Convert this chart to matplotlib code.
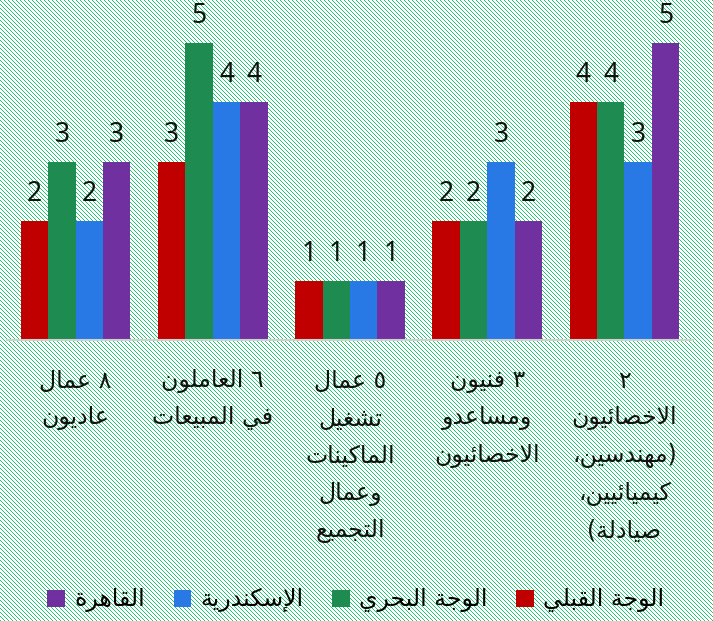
import matplotlib
matplotlib.use("Agg")
import matplotlib.pyplot as plt
from matplotlib.patches import Patch
import numpy as np

# categories, right to left on the axis
categories = [
    "٢\nالاخصائيون\n(مهندسين،\nكيميائيين،\nصيادلة)",
    "٣ فنيون\nومساعدو\nالاخصائيون",
    "٥ عمال\nتشغيل\nالماكينات\nوعمال\nالتجميع",
    "٦ العاملون\nفي المبيعات",
    "٨ عمال\nعاديون",
]
series_names = ["الوجة القبلي", "الوجة البحري", "الإسكندرية", "القاهرة"]
upper_egypt = [4, 2, 1, 3, 2]
lower_egypt = [4, 2, 1, 5, 3]
alexandria = [3, 3, 1, 4, 2]
cairo = [5, 2, 1, 4, 3]
series_colors = ["#c00000", "#1e8c50", "#2878e6", "#7030a0"]

# --- minimal Arabic shaping (presentation forms + reversed visual order) ---
FORMS = {
    'ء': (0xFE80, 1), 'آ': (0xFE81, 2), 'أ': (0xFE83, 2), 'ؤ': (0xFE85, 2),
    'إ': (0xFE87, 2), 'ئ': (0xFE89, 4), 'ا': (0xFE8D, 2), 'ب': (0xFE8F, 4),
    'ة': (0xFE93, 2), 'ت': (0xFE95, 4), 'ث': (0xFE99, 4), 'ج': (0xFE9D, 4),
    'ح': (0xFEA1, 4), 'خ': (0xFEA5, 4), 'د': (0xFEA9, 2), 'ذ': (0xFEAB, 2),
    'ر': (0xFEAD, 2), 'ز': (0xFEAF, 2), 'س': (0xFEB1, 4), 'ش': (0xFEB5, 4),
    'ص': (0xFEB9, 4), 'ض': (0xFEBD, 4), 'ط': (0xFEC1, 4), 'ظ': (0xFEC5, 4),
    'ع': (0xFEC9, 4), 'غ': (0xFECD, 4), 'ف': (0xFED1, 4), 'ق': (0xFED5, 4),
    'ك': (0xFED9, 4), 'ل': (0xFEDD, 4), 'م': (0xFEE1, 4), 'ن': (0xFEE5, 4),
    'ه': (0xFEE9, 4), 'و': (0xFEED, 2), 'ى': (0xFEEF, 2), 'ي': (0xFEF1, 4),
}
LAM_ALEF = {'آ': 0xFEF5, 'أ': 0xFEF7, 'إ': 0xFEF9, 'ا': 0xFEFB}
MIRROR = {'(': ')', ')': '('}


def shape_line(text):
    tokens = []
    i = 0
    while i < len(text):
        c = text[i]
        if c == 'ل' and i + 1 < len(text) and text[i + 1] in LAM_ALEF:
            tokens.append(('LA', text[i + 1]))
            i += 2
        else:
            tokens.append(('C', c))
            i += 1

    def nforms(t):
        if t[0] == 'LA':
            return 2
        return FORMS.get(t[1], (0, 0))[1]

    out = []
    for k, t in enumerate(tokens):
        n = nforms(t)
        prev = tokens[k - 1] if k > 0 else None
        nxt = tokens[k + 1] if k + 1 < len(tokens) else None
        jp = n >= 2 and prev is not None and nforms(prev) == 4
        jn = n == 4 and nxt is not None and nforms(nxt) >= 2
        if t[0] == 'LA':
            out.append(chr(LAM_ALEF[t[1]] + (1 if jp else 0)))
        elif n == 0:
            out.append(MIRROR.get(t[1], t[1]))
        else:
            base = FORMS[t[1]][0]
            if n == 1:
                off = 0
            elif jp and jn:
                off = 3
            elif jp:
                off = 1
            elif jn:
                off = 2
            else:
                off = 0
            out.append(chr(base + off))
    return ''.join(reversed(out))


def shape(text):
    return [shape_line(line) for line in text.split('\n')]


W, H, DPI = 713, 621, 100
fig = plt.figure(figsize=(W / DPI, H / DPI), dpi=DPI)

# diagonal green stripes on white
yy, xx = np.mgrid[0:H, 0:W]
stripe = ((xx - yy) % 4) == 0
bg = np.ones((H, W, 3))
bg[stripe] = np.array([30, 200, 110]) / 255.0
fig.figimage(bg, 0, 0, zorder=-10)

# plot area: baseline at y=340px, one unit = 59.4px
base_px = 340
unit_px = 59.4
ymax = 5.5
ax = fig.add_axes([7 / W, (H - base_px) / H, 686 / W, ymax * unit_px / H])
ax.patch.set_alpha(0)
ax.set_xlim(-0.5, len(categories) - 0.5)
ax.set_ylim(0, ymax)
for s in ['top', 'left', 'right']:
    ax.spines[s].set_visible(False)
ax.spines['bottom'].set_color('#d0d0d0')
ax.spines['bottom'].set_linewidth(1.5)
ax.set_xticks([])
ax.set_yticks([])

n = len(categories)
positions = np.arange(n)[::-1]
bar_w = 0.2
all_series = [upper_egypt, lower_egypt, alexandria, cairo]
offsets = [-1.5 * bar_w, -0.5 * bar_w, 0.5 * bar_w, 1.5 * bar_w]

for vals, color, off in zip(all_series, series_colors, offsets):
    bars = ax.bar(positions + off, vals, width=bar_w, color=color, linewidth=0)
    for b, v in zip(bars, vals):
        ax.annotate(str(v), (b.get_x() + b.get_width() / 2, v),
                    xytext=(0, 20 * 0.72), textcoords='offset points',
                    ha='center', va='baseline', fontsize=19,
                    family='Noto Sans', color='#111111', annotation_clip=False)

# category labels, one line at a time
arabic_font = 'DejaVu Sans'
for pos, label in zip(positions, categories):
    for j, line in enumerate(shape(label)):
        ax.annotate(line, (pos, 0), xytext=(0, -(41 + 37.5 * j) * 0.72),
                    textcoords='offset points', ha='center', va='center',
                    fontsize=17, family=arabic_font, color='#111111',
                    annotation_clip=False)

handles = [Patch(facecolor=c, edgecolor='none') for c in series_colors][::-1]
labels = [shape_line(s) for s in series_names][::-1]
fig.legend(handles, labels, loc='center', bbox_to_anchor=(356 / W, (H - 600) / H),
           ncol=4, frameon=False, prop={'family': arabic_font, 'size': 17},
           handlelength=0.75, handleheight=0.75, handletextpad=0.4,
           columnspacing=1.2, borderaxespad=0)

fig.savefig('out.png', dpi=DPI)
